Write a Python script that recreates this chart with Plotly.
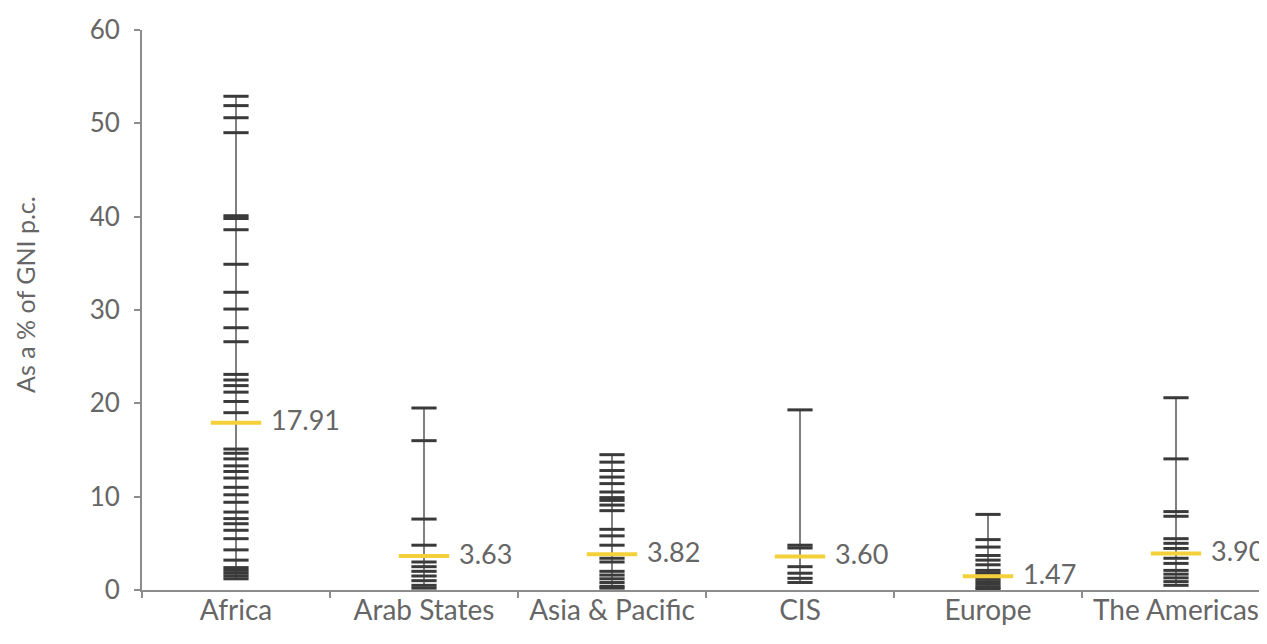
import plotly.graph_objects as go

categories = ["Africa", "Arab States", "Asia & Pacific", "CIS", "Europe", "The Americas"]

africa = [52.9, 51.9, 50.6, 49.0, 40.1, 39.8, 38.6, 34.9, 31.9, 30.1, 28.1, 26.6,
          23.1, 22.5, 21.9, 21.2, 20.2, 19.0, 15.1, 14.65, 14.05, 13.3, 12.7, 12.0,
          11.0, 10.2, 9.4, 8.35, 7.65, 7.1, 6.4, 5.5, 4.3, 3.2, 2.4, 2.1, 1.8, 1.5, 1.2]
arab_states = [19.5, 16.0, 7.6, 4.8, 3.0, 2.5, 2.0, 1.5, 1.0, 0.5, 0.2]
asia_pacific = [14.5, 13.7, 12.8, 12.1, 11.4, 10.5, 9.9, 9.6, 9.1, 8.5, 6.5, 5.8,
                4.8, 3.4, 3.0, 2.0, 1.6, 1.2, 0.8, 0.4, 0.2]
cis = [19.3, 4.8, 4.5, 2.5, 1.8, 1.25, 0.8]
europe = [8.1, 5.4, 4.6, 3.7, 3.2, 2.7, 2.1, 1.8, 1.5, 1.2, 0.9, 0.6, 0.3, 0.1]
americas = [20.6, 14.05, 8.4, 7.9, 5.5, 5.0, 4.45, 3.4, 2.85, 2.1, 1.7, 1.3, 0.9, 0.5]
means = [17.91, 3.63, 3.82, 3.60, 1.47, 3.90]
mean_labels = ["17.91", "3.63", "3.82", "3.60", "1.47", "3.90"]
y_ticks = [0, 10, 20, 30, 40, 50, 60]
y_title = "As a % of GNI p.c."

series = [africa, arab_states, asia_pacific, cis, europe, americas]

FONT = "Lato"
TXT = "#666666"
AX = "#8c8c8c"

fig = go.Figure()

# range lines
for cat, vals in zip(categories, series):
    fig.add_trace(go.Scatter(
        x=[cat, cat], y=[min(vals), max(vals)], mode="lines",
        line=dict(color="#808080", width=2), hoverinfo="skip", showlegend=False))

# individual country dashes
xs, ys = [], []
for cat, vals in zip(categories, series):
    xs += [cat] * len(vals)
    ys += vals
fig.add_trace(go.Scatter(
    x=xs, y=ys, mode="markers", showlegend=False,
    marker=dict(symbol="line-ew", size=18, line=dict(color="#3a3a3a", width=3))))

# means
fig.add_trace(go.Scatter(
    x=categories, y=means, mode="markers", showlegend=False,
    marker=dict(symbol="line-ew", size=36, line=dict(color="#F4D03A", width=4))))

for cat, m, lab in zip(categories, means, mean_labels):
    fig.add_annotation(x=cat, y=m, text=lab, showarrow=False, xanchor="left",
                       yanchor="middle", xshift=33, yshift=3,
                       font=dict(family=FONT, size=27, color=TXT))

# y-axis title
fig.add_annotation(xref="paper", yref="paper", x=0, y=0.527, xshift=-117,
                   text=y_title, textangle=-90, showarrow=False,
                   xanchor="center", yanchor="middle",
                   font=dict(family=FONT, size=25, color=TXT))

fig.update_layout(
    width=1267, height=644,
    margin=dict(l=134, r=5, t=20, b=62),
    paper_bgcolor="white", plot_bgcolor="white",
    font=dict(family=FONT, color=TXT),
    showlegend=False,
)
fig.update_xaxes(
    type="category", categoryorder="array", categoryarray=categories,
    range=[-0.5, 5.5], showgrid=False, showline=True, linecolor=AX, linewidth=2,
    ticks="outside", ticklen=6, tickcolor=AX, tickwidth=2, tickson="boundaries",
    ticklabelstandoff=-6,
    tickfont=dict(family=FONT, size=28, color=TXT), zeroline=False)
fig.update_yaxes(
    range=[0, 60], tickvals=y_ticks, showgrid=False, showline=True, linecolor=AX,
    linewidth=2, ticks="outside", ticklen=6, tickcolor=AX, tickwidth=2,
    ticklabelstandoff=9,
    tickfont=dict(family=FONT, size=26, color=TXT), zeroline=False)

fig.write_html("out.html")
